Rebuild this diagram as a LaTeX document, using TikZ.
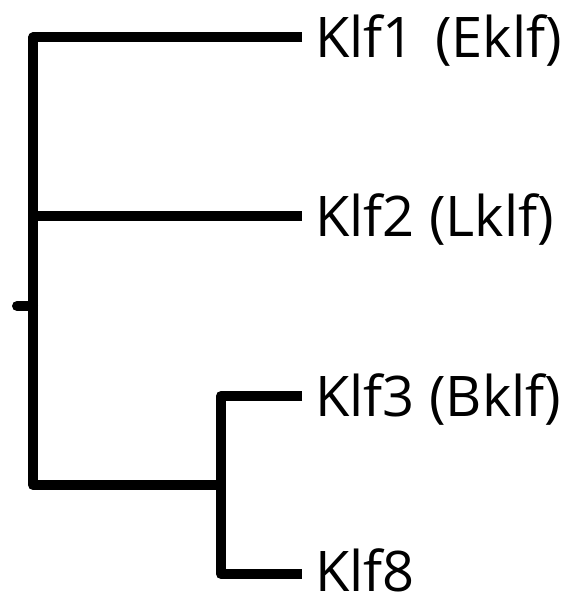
\documentclass[tikz,border=0pt]{standalone}
\usepackage{fontspec}
\setmainfont{Open Sans}
\begin{document}
\begin{tikzpicture}[x=1pt,y=-1pt,
  branch/.style={line width=10pt, line join=round},
  leaf/.style={anchor=base west, inner sep=0pt, font=\fontsize{56}{60}\selectfont}]
\useasboundingbox (0,0) rectangle (570,599);
% junctions
\coordinate (rootend) at (17,306);
\coordinate (rootj) at (33,306);
\coordinate (a1) at (33,37.5);
\coordinate (a2) at (33,216);
\coordinate (a3) at (33,485);
\coordinate (b3) at (221,485);
\coordinate (b1) at (221,396);
\coordinate (b2) at (221,574);
% leaf tips
\coordinate (t1) at (302,37.5);
\coordinate (t2) at (302,216);
\coordinate (t3) at (302,396);
\coordinate (t4) at (302,574);
% labels
\node[leaf] (k1) at (315,57.5) {Klf1\hspace{6pt} (Eklf)};
\node[leaf] (k2) at (315,236) {Klf2 (Lklf)};
\node[leaf] (k3) at (315,416) {Klf3 (Bklf)};
\node[leaf] (k8) at (315,591.5) {Klf8};
% tree
\draw[branch] (t1) -- (a1) -- (a3) -- (b3);
\draw[branch] (a2) -- (t2);
\draw[branch] (t3) -- (b1) -- (b2) -- (t4);
\draw[branch, line cap=round] (rootend) -- (rootj);
\end{tikzpicture}
\end{document}
